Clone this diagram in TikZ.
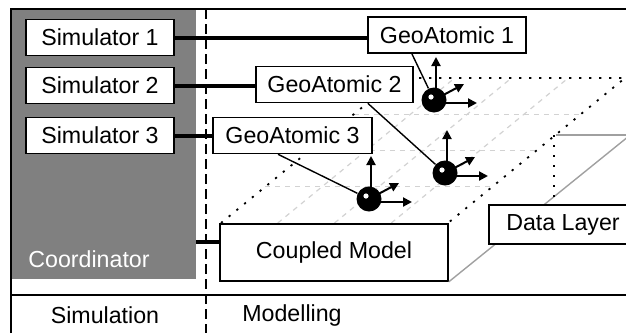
\documentclass[tikz,border=0pt]{standalone}
\usepackage{fontspec}
\setmainfont{Liberation Sans}
\usetikzlibrary{arrows.meta,calc}
\definecolor{coordgray}{RGB}{128,128,128}
\definecolor{gridgray}{RGB}{210,210,210}
\definecolor{slabgray}{RGB}{160,160,160}

\begin{document}
\begin{tikzpicture}[x=0.5pt, y=-0.5pt, font=\fontsize{11.6}{13.5}\selectfont,
    simbox/.style={draw, line width=0.8pt, fill=white, rectangle, inner sep=0pt, minimum height=18pt},
    link/.style={line width=2pt},
    wire/.style={line width=0.7pt},
    axis/.style={line width=1pt, -{Triangle[length=4.5pt, width=4.5pt]}},
    atom/.style={circle, fill=black, minimum size=12.5pt, inner sep=0pt},
    planeedge/.style={line width=0.9pt, dash pattern=on 1.1pt off 3.9pt},
    gridline/.style={gridgray, line width=0.6pt, dash pattern=on 2.5pt off 2.5pt},
    slab/.style={slabgray, line width=0.7pt}]
    \useasboundingbox (0,0) rectangle (626,333);
    \clip (0,0) rectangle (626,333);

    % frame and coordinator
    \node[fill=coordgray, inner sep=0pt, minimum width=92pt, minimum height=134.5pt] (coord) at (104,144.5) {};
    \node[text=white, anchor=west, inner sep=0pt] (coordtxt) at (28,259) {Coordinator};
    \draw[line width=0.9pt] (11,333) -- (11,9) -- (626,9);
    \draw[line width=0.9pt] (11,295) -- (626,295);
    \draw[line width=1pt, dash pattern=on 5pt off 2.5pt] (205.5,9) -- (205.5,333);

    % ground plane with grid
    \coordinate (pfl) at (221,223);
    \coordinate (pfr) at (448,223);
    \coordinate (pbr) at (625,78);
    \coordinate (pbl) at (398,78);
    \foreach \t in {0.25,0.5,0.75} {
        \draw[gridline] ($(pfl)!\t!(pbl)$) -- ($(pfr)!\t!(pbr)$);
        \draw[gridline] ($(pfl)!\t!(pfr)$) -- ($(pbl)!\t!(pbr)$);
    }
    \draw[planeedge] (pfl) -- (pbl) -- (pbr) -- (pfr);

    % boxes
    \foreach \i/\y in {1/37.5, 2/85.5, 3/135.5}
        \node[simbox, minimum width=74pt] (sim\i) at (100,\y) {Simulator \i};
    \node[simbox, minimum width=79pt] (ga1) at (447,35) {GeoAtomic 1};
    \node[simbox, minimum width=78.5pt] (ga2) at (334.5,84.5) {GeoAtomic 2};
    \node[simbox, minimum width=79.5pt] (ga3) at (292.5,135.5) {GeoAtomic 3};
    \node[simbox, minimum width=114pt, minimum height=28.5pt] (cm) at (334,252.5) {Coupled Model};

    % data layer slab
    \coordinate (slabcorner) at (556,135);
    \draw[slab] (slabcorner) -- ++(90,0);
    \draw[slab] (cm.south east) -- ++(220,-178);
    \node[simbox, minimum width=74pt, minimum height=19.5pt] (dl) at (563,224.5) {Data Layer};
    \draw[planeedge] ([xshift=-1pt]slabcorner) -- ([xshift=-1pt]slabcorner |- dl.north);

    % links to the simulators
    \foreach \i in {1,2,3}
        \draw[link] (sim\i.east) -- (sim\i.east -| ga\i.west);
    \coordinate (cmlink) at ($(cm.north west)!0.32!(cm.south west)$);
    \draw[link] (cmlink) -- (cmlink -| coord.east);

    % atoms
    \foreach \i/\x/\y in {1/434/100, 2/445/173, 3/369/199} {
        \draw[axis] ([shift={(2,0)}]\x,\y) -- ++(0,-43);
        \draw[axis] ([shift={(0,3)}]\x,\y) -- ++(43,0);
        \draw[axis] (\x,\y) -- ++(30,-16);
        \node[atom] (a\i) at (\x,\y) {};
        \fill[white] ([shift={(-3,-3)}]a\i.center) circle (1.3pt);
    }
    \draw[wire] ($(ga1.south west)!0.28!(ga1.south east)$) -- (a1);
    \draw[wire] ($(ga2.south west)!0.71!(ga2.south east)$) -- (a2);
    \draw[wire] ($(ga3.south west)!0.41!(ga3.south east)$) -- (a3);

    \node (simlabel) at (105,315) {Simulation};
    \node (modlabel) at (292,315) {Modelling};
\end{tikzpicture}
\end{document}
